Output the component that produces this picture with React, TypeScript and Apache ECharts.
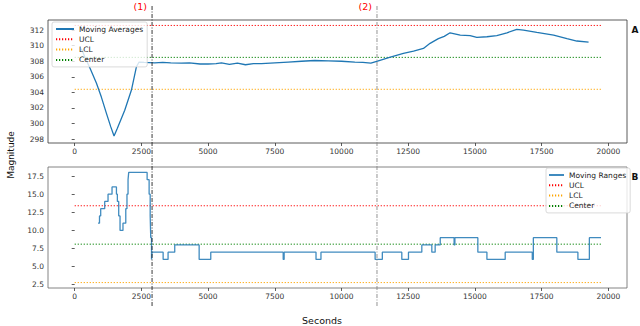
import React, { useEffect, useRef } from "react";
import * as echarts from "echarts";

// ---- data ----
const xTicks = [0, 2500, 5000, 7500, 10000, 12500, 15000, 17500, 20000];
const topYTicks = [298, 300, 302, 304, 306, 308, 310, 312];
const bottomYTicks = [2.5, 5, 7.5, 10, 12.5, 15, 17.5];

const maSeconds = [
  250, 375, 600, 813, 1000, 1190, 1350, 1475, 1600, 1876, 2127, 2315, 2413, 2600,
  3000, 3300, 3600, 4000, 4300, 4700, 5000, 5300, 5500, 5800, 6100, 6400, 6700,
  7000, 7500, 8000, 8500, 9000, 9500, 10000, 10500, 10800, 11100, 11320, 11800,
  12320, 12700, 13070, 13320, 13630, 13850, 14070, 14450, 14820, 15070, 15450,
  15820, 16200, 16570, 16820, 17320, 17950, 18450, 18820, 19260,
];
const maValues = [
  309.6, 308.6, 306.9, 305.2, 303.4, 301.3, 299.6, 298.4, 299.4, 301.7, 304.3, 307.3, 307.9, 307.85,
  307.8, 307.85, 307.8, 307.75, 307.8, 307.65, 307.65, 307.7, 307.8, 307.6, 307.75, 307.55, 307.7,
  307.7, 307.8, 307.9, 308.0, 308.1, 308.05, 308.0, 307.9, 307.85, 307.75, 308.0, 308.5,
  309.0, 309.3, 309.65, 310.3, 310.9, 311.2, 311.66, 311.36, 311.3, 311.06, 311.15,
  311.3, 311.66, 312.1, 312.0, 311.7, 311.36, 310.9, 310.6, 310.45,
];

const mrSeconds = [
  875, 930, 975, 1125, 1250, 1400, 1565, 1600, 1650, 1700, 1810, 1915, 1960, 2000, 2025,
  2715, 2790, 2830, 2850, 2880, 2900, 3315, 3500, 3750, 4665, 5100, 7815, 7850, 9045,
  9230, 11260, 11530, 12260, 12510, 13010, 13385, 13510, 13700, 14220, 14250, 15110,
  15450, 16135, 17150, 17190, 18070, 18860, 19290, 19725,
];
const mrValues = [
  11, 12, 13, 14, 15, 16, 15, 14, 12, 10, 11, 13, 15, 17, 18,
  17, 15, 12, 9, 6, 7, 6, 7, 8, 6, 7, 6, 7, 6,
  7, 6, 7, 6, 7, 8, 7, 8, 9, 8, 9, 7,
  6, 7, 6, 9, 7, 6, 9, 9,
];

const limitStart = 0;
const limitEnd = 19740;
const topUCL = 312.6;
const topLCL = 304.4;
const topCenter = 308.5;
const botUCL = 13.4;
const botLCL = 2.8;
const botCenter = 8.1;

const eventSeconds = [2900, 11330];
const eventLabels = ["(1)", "(2)"];
const eventColors = ["#222222", "#888888"];

const FONT = "DejaVu Sans";
const BLUE = "#1f77b4";

function pairs(xs: number[], ys: number[]) {
  return xs.map((x, i) => [x, ys[i]]);
}

function limitSeries(name: string, value: number, color: string, axis: number) {
  return {
    name,
    type: "line",
    xAxisIndex: axis,
    yAxisIndex: axis,
    data: [
      [limitStart, value],
      [limitEnd, value],
    ],
    symbol: "none",
    lineStyle: { color, width: 1, type: [1.2, 1.8] },
    itemStyle: { color },
    silent: true,
    z: 1,
  };
}

export default function App() {
  const ref = useRef<HTMLDivElement>(null);

  useEffect(() => {
    if (!ref.current) return;
    const chart = echarts.init(ref.current, null, { renderer: "svg" });

    const axisLabel = { fontSize: 7.5, color: "#333", fontFamily: FONT, margin: 4 };
    const xAxisCommon = (gridIndex: number) => ({
      type: "value",
      gridIndex,
      min: -1000,
      max: 20700,
      axisLine: { show: false },
      splitLine: { show: false },
      axisTick: { show: true, length: 3, lineStyle: { color: "#333", width: 0.8 }, customValues: xTicks },
      axisLabel: { ...axisLabel, customValues: xTicks, formatter: (v: number) => String(v) },
    });

    const legendCommon = {
      orient: "vertical",
      itemHeight: 8,
      itemGap: 2.3,
      backgroundColor: "rgba(255,255,255,0.8)",
      borderColor: "#d0d0d0",
      borderWidth: 0.8,
      borderRadius: 2,
      selectedMode: false,
      itemStyle: { opacity: 0 },
      textStyle: { fontSize: 7.5, color: "#222", fontFamily: FONT },
    };

    const option: any = {
      animation: false,
      backgroundColor: "#ffffff",
      grid: [
        { left: 48, top: 20, width: 579, height: 123, show: true, borderColor: "#333", borderWidth: 0.8, backgroundColor: "transparent" },
        { left: 48, top: 167, width: 579, height: 121, show: true, borderColor: "#666", borderWidth: 0.8, backgroundColor: "transparent" },
      ],
      xAxis: [xAxisCommon(0), xAxisCommon(1)],
      yAxis: [
        {
          type: "value",
          gridIndex: 0,
          min: 297.5,
          max: 313.3,
          axisLine: { show: false },
          splitLine: { show: false },
          axisTick: { show: true, length: 3, lineStyle: { color: "#333", width: 0.8 }, customValues: topYTicks },
          axisLabel: { ...axisLabel, customValues: topYTicks },
        },
        {
          type: "value",
          gridIndex: 1,
          min: 2.05,
          max: 18.75,
          axisLine: { show: false },
          splitLine: { show: false },
          axisTick: { show: true, length: 3, lineStyle: { color: "#333", width: 0.8 }, customValues: bottomYTicks },
          axisLabel: { ...axisLabel, customValues: bottomYTicks, formatter: (v: number) => v.toFixed(1) },
        },
      ],
      legend: [
        {
          ...legendCommon,
          left: 52,
          top: 22,
          itemWidth: 18,
          padding: [3, 4, 3, 3],
          data: ["Moving Averages", "UCL", "LCL", "Center"],
        },
        {
          ...legendCommon,
          left: 546,
          top: 168,
          itemWidth: 15,
          padding: [3, 4, 3, 2],
          data: ["Moving Ranges", "UCL", "LCL", "Center"],
        },
      ],
      series: [
        {
          name: "Moving Averages",
          type: "line",
          xAxisIndex: 0,
          yAxisIndex: 0,
          data: pairs(maSeconds, maValues),
          symbol: "none",
          lineStyle: { color: BLUE, width: 1.3 },
          itemStyle: { color: BLUE },
          z: 2,
        },
        limitSeries("UCL", topUCL, "#ff0000", 0),
        limitSeries("LCL", topLCL, "#ffa500", 0),
        limitSeries("Center", topCenter, "#008000", 0),
        {
          name: "Moving Ranges",
          type: "line",
          xAxisIndex: 1,
          yAxisIndex: 1,
          step: "end",
          data: pairs(mrSeconds, mrValues),
          symbol: "none",
          lineStyle: { color: BLUE, width: 1.3, opacity: 0.85 },
          itemStyle: { color: BLUE },
          z: 2,
        },
        limitSeries("UCL", botUCL, "#ff0000", 1),
        limitSeries("LCL", botLCL, "#ffa500", 1),
        limitSeries("Center", botCenter, "#008000", 1),
      ],
    };

    chart.setOption(option);

    const graphics: any[] = [];
    eventSeconds.forEach((s, i) => {
      const px = chart.convertToPixel({ xAxisIndex: 0 }, s) as number;
      graphics.push({
        type: "line",
        silent: true,
        z: 10,
        shape: { x1: px, y1: 6, x2: px, y2: 306 },
        style: { stroke: eventColors[i], lineWidth: 0.9, lineDash: [4, 1.5, 1, 1.5] },
      });
      graphics.push({
        type: "text",
        silent: true,
        z: 10,
        x: px - 5,
        y: 6,
        style: {
          text: eventLabels[i],
          fill: "#ff0000",
          fontSize: 9.5,
          fontFamily: FONT,
          textAlign: "right",
          textVerticalAlign: "middle",
        },
      });
    });
    graphics.push(
      {
        type: "text",
        x: 635,
        y: 30,
        style: { text: "A", fill: "#111", fontSize: 9, fontWeight: "bold", fontFamily: FONT, textAlign: "center", textVerticalAlign: "middle" },
      },
      {
        type: "text",
        x: 635,
        y: 177,
        style: { text: "B", fill: "#111", fontSize: 9, fontWeight: "bold", fontFamily: FONT, textAlign: "center", textVerticalAlign: "middle" },
      },
      {
        type: "text",
        x: 11,
        y: 155,
        rotation: Math.PI / 2,
        style: { text: "Magnitude", fill: "#111", fontSize: 9, fontFamily: FONT, textAlign: "center", textVerticalAlign: "middle" },
      },
      {
        type: "text",
        x: 322,
        y: 320,
        style: { text: "Seconds", fill: "#111", fontSize: 9.5, fontFamily: FONT, textAlign: "center", textVerticalAlign: "middle" },
      }
    );
    chart.setOption({ graphic: graphics });

    return () => chart.dispose();
  }, []);

  return (
    <div
      ref={ref}
      style={{ position: "fixed", left: 0, top: 0, width: 640, height: 326, background: "#fff" }}
    />
  );
}
